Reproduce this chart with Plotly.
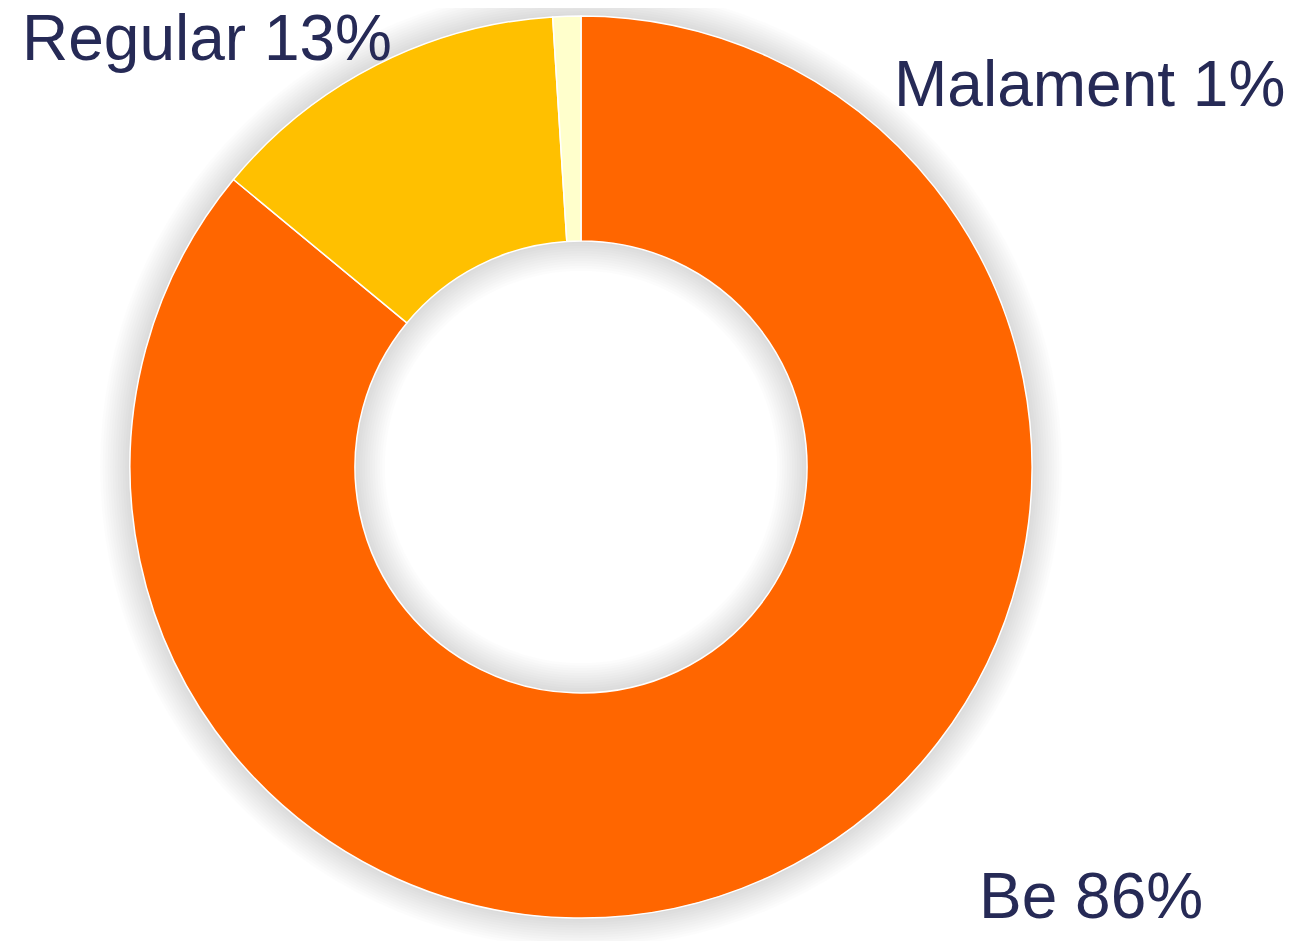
import plotly.graph_objects as go

# donut data
labels = ["Be", "Regular", "Malament"]
values = [86, 13, 1]
colors = ["#FF6600", "#FFC000", "#FFFFCC"]

W, H = 1306, 941
OFF = 8  # page body margin shifts the plot by 8px
CX, CY, R_OUT, R_IN = 581 - OFF, 467 - OFF, 451, 226
TEXT_COLOR = "#262A56"


def domain_for(r):
    return dict(x=[(CX - r) / W, (CX + r) / W],
                y=[1 - (CY + r) / H, 1 - (CY - r) / H])


def circle(r, fill):
    return dict(type="circle", xref="paper", yref="paper", layer="below",
                x0=(CX - r) / W, x1=(CX + r) / W,
                y0=1 - (CY + r) / H, y1=1 - (CY - r) / H,
                fillcolor=fill, line=dict(width=0))


fig = go.Figure()

# soft outer glow: stacked faint grey discs under the donut, hole cleared with white
shapes = [circle(R_OUT + 2.5 * k, "rgba(0,0,0,0.013)") for k in range(12, 0, -1)]
shapes.append(circle(R_IN, "white"))

# inner glow inside the hole
for k in range(1, 13):
    fig.add_trace(go.Pie(
        values=[1], labels=["shadow"], domain=domain_for(R_OUT), hole=(R_IN - 2.5 * k) / R_OUT,
        marker=dict(colors=["rgba(0,0,0,0.013)"], line=dict(width=0)),
        textinfo="none", hoverinfo="skip", showlegend=False, sort=False,
    ))

fig.add_trace(go.Pie(
    labels=labels, values=values, domain=domain_for(R_OUT), hole=R_IN / R_OUT,
    direction="clockwise", sort=False, rotation=0,
    marker=dict(colors=colors, line=dict(color="white", width=1.5)),
    textinfo="none", showlegend=False,
))

# slice labels, placed like the original
label_pos = {"Regular": (20, 38, "left"), "Malament": (1287, 84, "right"), "Be": (1205, 896, "right")}
for lab, val in zip(labels, values):
    x, y, anchor = label_pos[lab]
    fig.add_annotation(
        x=(x - OFF) / W, y=1 - (y - OFF) / H, xref="paper", yref="paper",
        text=f"{lab} {val}%", showarrow=False, xanchor=anchor, yanchor="middle",
        font=dict(family="Liberation Sans, Arial", size=64, color=TEXT_COLOR),
    )

fig.update_layout(
    width=W, height=H,
    margin=dict(l=0, r=0, t=0, b=0),
    paper_bgcolor="white", plot_bgcolor="white",
    shapes=shapes,
)

fig.write_html("out.html")
